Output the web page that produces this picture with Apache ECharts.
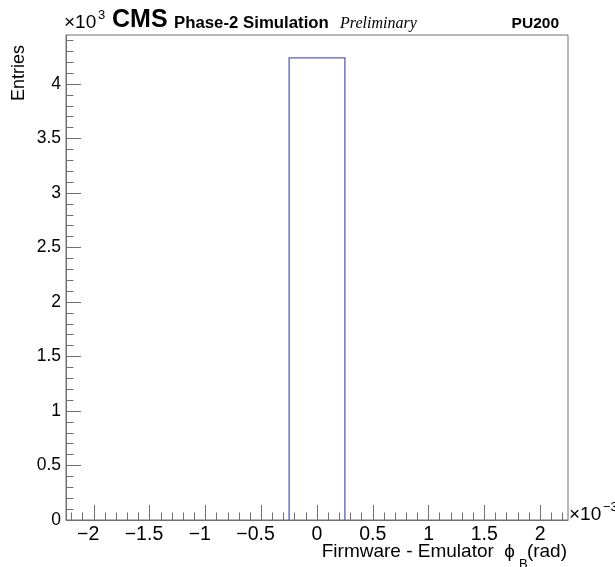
<!DOCTYPE html>
<html>
<head>
<meta charset="utf-8">
<script src="https://cdn.jsdelivr.net/npm/echarts@6/dist/echarts.min.js"></script>
<style>
html,body{margin:0;padding:0;background:#fff;}
#c{width:615px;height:567px;}
</style>
</head>
<body>
<div id="c"></div>
<script>
// ---- data (x in units of 10^-3 rad, counts in units of 10^3) ----
const binEdges = [-2.25, -1.75, -1.25, -0.75, -0.25, 0.25, 0.75, 1.25, 1.75, 2.25];
const binCounts = [0, 0, 0, 0, 4.24, 0, 0, 0, 0];
const xMajorTicks = [-2, -1.5, -1, -0.5, 0, 0.5, 1, 1.5, 2];
const yMajorTicks = [0, 0.5, 1, 1.5, 2, 2.5, 3, 3.5, 4];
const xRange = [-2.25, 2.25];
const yRange = [0, 4.45];

const xMinorTicks = [];
for (let i = -22; i <= 22; i++) xMinorTicks.push(i / 10);
const yMinorTicks = [];
for (let i = 0; i <= 44; i++) yMinorTicks.push(i / 10);

const bins = binCounts.map((c, i) => [binEdges[i], binEdges[i + 1], c]);

const FONT = 'Liberation Sans';
const AX = '#707070';
const LBL = 19.5;
// negative labels: centre the digits on the tick (minus sign hangs to the left)
const xfmt = v => v < 0 ? '\u2212' + String(-v) + '{s|\u2212}' : String(v);
const yfmt = v => String(v);

const chart = echarts.init(document.getElementById('c'), null, {renderer: 'canvas'});
chart.setOption({
  animation: false,
  backgroundColor: '#fff',
  grid: {left: 66, right: 47, top: 35, bottom: 47, show: true, borderColor: AX, borderWidth: 1, backgroundColor: 'transparent'},
  xAxis: [
    {
      type: 'value', min: xRange[0], max: xRange[1],
      axisLine: {show: true, onZero: false, lineStyle: {color: AX, width: 1}},
      splitLine: {show: false},
      axisTick: {show: true, inside: true, length: 15, customValues: xMajorTicks, lineStyle: {color: AX}},
      axisLabel: {
        show: true, customValues: xMajorTicks, formatter: xfmt, color: '#000',
        fontFamily: FONT, fontSize: LBL, margin: 5,
        rich: {s: {color: 'rgba(0,0,0,0)', fontFamily: FONT, fontSize: LBL}}
      }
    },
    {
      type: 'value', min: xRange[0], max: xRange[1], position: 'bottom',
      axisLine: {show: false, onZero: false},
      splitLine: {show: false},
      axisTick: {show: true, inside: true, length: 7.5, customValues: xMinorTicks, lineStyle: {color: AX}},
      axisLabel: {show: false}
    }
  ],
  yAxis: [
    {
      type: 'value', min: yRange[0], max: yRange[1],
      axisLine: {show: true, onZero: false, lineStyle: {color: AX, width: 1}},
      splitLine: {show: false},
      axisTick: {show: true, inside: true, length: 15, customValues: yMajorTicks, lineStyle: {color: AX}},
      axisLabel: {show: true, customValues: yMajorTicks, formatter: yfmt, color: '#000', fontFamily: FONT, fontSize: 17.5, margin: 5}
    },
    {
      type: 'value', min: yRange[0], max: yRange[1], position: 'left',
      axisLine: {show: false, onZero: false},
      splitLine: {show: false},
      axisTick: {show: true, inside: true, length: 7.5, customValues: yMinorTicks, lineStyle: {color: AX}},
      axisLabel: {show: false}
    }
  ],
  series: [{
    type: 'custom',
    xAxisIndex: 0, yAxisIndex: 0,
    data: bins,
    renderItem: function (params, api) {
      const c = api.value(2);
      if (!(c > 0)) return null;
      const p0 = api.coord([api.value(0), 0]);
      const p1 = api.coord([api.value(0), c]);
      const p2 = api.coord([api.value(1), c]);
      const p3 = api.coord([api.value(1), 0]);
      return {
        type: 'polyline',
        shape: {points: [p0, p1, p2, p3]},
        style: {stroke: '#5c5cc4', lineWidth: 1.3, fill: null}
      };
    }
  }],
  graphic: [
    {type: 'text', x: 64, y: 32, style: {text: '\u00d710', fontFamily: FONT, fontSize: 19, fill: '#000', verticalAlign: 'bottom'}},
    {type: 'text', x: 98, y: 22, style: {text: '3', fontFamily: FONT, fontSize: 13, fill: '#000', verticalAlign: 'bottom'}},
    {type: 'text', x: 112, y: 33, style: {text: 'CMS', fontFamily: FONT, fontWeight: 'bold', fontSize: 25, fill: '#000', verticalAlign: 'bottom'}},
    {type: 'text', x: 174, y: 32, style: {text: 'Phase-2 Simulation', fontFamily: FONT, fontWeight: 'bold', fontSize: 16.8, fill: '#000', verticalAlign: 'bottom'}},
    {type: 'text', x: 340, y: 32, style: {text: 'Preliminary', fontFamily: 'Liberation Serif', fontStyle: 'italic', fontSize: 16, fill: '#000', verticalAlign: 'bottom'}},
    {type: 'text', x: 559, y: 32, style: {text: 'PU200', fontFamily: FONT, fontWeight: 'bold', fontSize: 15.5, fill: '#000', align: 'right', verticalAlign: 'bottom'}},
    {type: 'text', x: 19, y: 45, rotation: Math.PI / 2, style: {text: 'Entries', fontFamily: FONT, fontSize: 18, fill: '#000', align: 'right', verticalAlign: 'middle'}},
    {type: 'text', x: 569, y: 524, style: {text: '\u00d710', fontFamily: FONT, fontSize: 19, fill: '#000', verticalAlign: 'bottom'}},
    {type: 'text', x: 603, y: 514, style: {text: '\u22123', fontFamily: FONT, fontSize: 13, fill: '#000', verticalAlign: 'bottom'}},
    {type: 'text', x: 515, y: 561, style: {text: 'Firmware - Emulator  \u03d5', fontFamily: FONT, fontSize: 19, fill: '#000', align: 'right', verticalAlign: 'bottom'}},
    {type: 'text', x: 519, y: 571, style: {text: 'B', fontFamily: FONT, fontSize: 13, fill: '#000', verticalAlign: 'bottom'}},
    {type: 'text', x: 567, y: 561, style: {text: '(rad)', fontFamily: FONT, fontSize: 19, fill: '#000', align: 'right', verticalAlign: 'bottom'}}
  ]
});
</script>
</body>
</html>
